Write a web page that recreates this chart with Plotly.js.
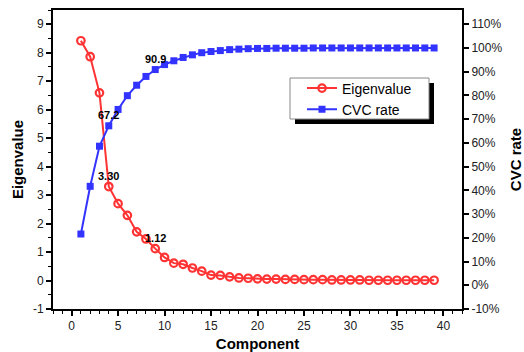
<!DOCTYPE html>
<html>
<head>
<meta charset="utf-8">
<script src="https://cdn.plot.ly/plotly-3.0.1.min.js"></script>
<style>html,body{margin:0;padding:0;background:#fff;}#chart{width:524px;height:352px;}</style>
</head>
<body>
<div id="chart"></div>
<script>
var components = [1,2,3,4,5,6,7,8,9,10,11,12,13,14,15,16,17,18,19,20,21,22,23,24,25,26,27,28,29,30,31,32,33,34,35,36,37,38,39];
var eigenvalue = [8.42,7.86,6.59,3.30,2.70,2.29,1.71,1.46,1.12,0.81,0.61,0.57,0.44,0.33,0.19,0.18,0.13,0.09,0.08,0.06,0.05,0.05,0.04,0.04,0.03,0.03,0.03,0.02,0.02,0.02,0.02,0.01,0.01,0.01,0.01,0.01,0.01,0.01,0.01];
var cvcRate = [21.6,41.7,58.6,67.2,74.1,79.9,84.3,88.0,90.9,93.0,94.6,96.0,97.1,98.0,98.5,98.9,99.3,99.5,99.7,99.8,99.8,99.9,99.9,99.9,99.9,100,100,100,100,100,100,100,100,100,100,100,100,100,100];
var xTicks = [0,5,10,15,20,25,30,35,40];
var yTicks = [-1,0,1,2,3,4,5,6,7,8,9];
var yTickLabels = ['-1','0','1','2','3','4','5','6','7','8','9'];
var y2Ticks = [-10,0,10,20,30,40,50,60,70,80,90,100,110];
var y2TickLabels = ['-10%','0%','10%','20%','30%','40%','50%','60%','70%','80%','90%','100%','110%'];
var labelPoints = [
  {x: 9, y: 90.9, text: '90.9', ax: 'y2'},
  {x: 4, y: 67.2, text: '67.2', ax: 'y2'},
  {x: 4, y: 3.30, text: '3.30', ax: 'y'},
  {x: 9, y: 1.12, text: '1.12', ax: 'y'}
];

var red = 'rgb(255,51,51)';
var blue = 'rgb(51,51,255)';
var tickFont = {family: 'Arial, Liberation Sans, sans-serif', size: 12, color: '#222'};
var titleFont = {family: 'Arial, Liberation Sans, sans-serif', size: 15, color: '#000', weight: 'bold'};

var traces = [
  {x: components, y: eigenvalue, name: 'Eigenvalue', type: 'scatter', mode: 'lines+markers',
   line: {color: red, width: 2},
   marker: {symbol: 'circle-open', size: 7.5, color: red, line: {width: 2.2, color: red}}},
  {x: components, y: cvcRate, name: 'CVC rate', type: 'scatter', mode: 'lines+markers', yaxis: 'y2',
   line: {color: blue, width: 2},
   marker: {symbol: 'square', size: 7, color: blue}}
];

var annotations = labelPoints.map(function(p){
  return {x: p.x, y: p.y, xref: 'x', yref: p.ax, text: p.text, showarrow: false, yshift: 11,
    font: {family: 'Arial, Liberation Sans, sans-serif', size: 11, color: '#000', weight: 'bold'}};
});

var L = 53, R = 462, T = 10, B = 309;
function px(x){ return (x - L) / (R - L); }
function py(y){ return (B - y) / (B - T); }

var layout = {
  width: 524, height: 352,
  margin: {l: L, r: 524 - R, t: T, b: 352 - B, pad: 0},
  paper_bgcolor: '#fff', plot_bgcolor: '#fff',
  showlegend: true,
  legend: {x: px(302), y: py(72.5), xanchor: 'left', yanchor: 'top',
    bgcolor: 'rgba(0,0,0,0)', borderwidth: 0,
    font: {family: 'Arial, Liberation Sans, sans-serif', size: 14, color: '#000'},
    tracegroupgap: 0, itemwidth: 30},
  xaxis: {range: [-2, 42], tickvals: xTicks, ticks: 'outside', ticklen: 5, tickwidth: 2, tickcolor: '#000',
    showline: true, linewidth: 2, linecolor: '#000', mirror: true, showgrid: false, zeroline: false,
    tickfont: tickFont,
    minor: {dtick: 1, ticks: 'outside', ticklen: 3, tickwidth: 1, tickcolor: '#000', showgrid: false},
    title: {text: 'Component', font: titleFont, standoff: 6}},
  yaxis: {range: [-1, 9.5], tickvals: yTicks, ticktext: yTickLabels, ticks: 'outside', ticklen: 5, tickwidth: 2, tickcolor: '#000',
    showline: true, linewidth: 2, linecolor: '#000', showgrid: false, zeroline: false,
    tickfont: tickFont,
    minor: {dtick: 0.5, ticks: 'outside', ticklen: 3, tickwidth: 1, tickcolor: '#000', showgrid: false},
    title: {text: 'Eigenvalue', font: titleFont, standoff: 6}},
  yaxis2: {range: [-10, 116], overlaying: 'y', side: 'right', tickvals: y2Ticks, ticktext: y2TickLabels,
    ticks: 'outside', ticklen: 5, tickwidth: 2, tickcolor: '#000',
    showline: true, linewidth: 2, linecolor: '#000', showgrid: false, zeroline: false,
    tickfont: tickFont,
    title: {text: 'CVC rate', font: titleFont, standoff: 12}},
  annotations: annotations,
  shapes: [
    {type: 'rect', xref: 'paper', yref: 'paper', x0: px(295), x1: px(434), y0: py(124), y1: py(83),
     fillcolor: '#000', line: {width: 0}, layer: 'above'},
    {type: 'rect', xref: 'paper', yref: 'paper', x0: px(290), x1: px(429), y0: py(119), y1: py(78),
     fillcolor: '#fff', line: {width: 1, color: '#888'}, layer: 'above'}
  ]
};

Plotly.newPlot('chart', traces, layout, {displayModeBar: false, staticPlot: true});
</script>
</body>
</html>
